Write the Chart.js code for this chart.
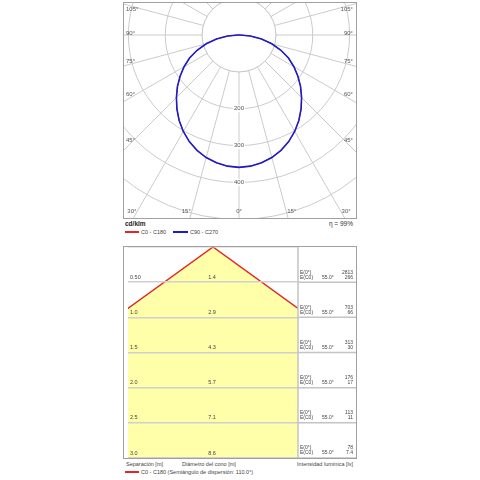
<!DOCTYPE html>
<html>
<head>
<meta charset="utf-8">
<script src="https://cdn.jsdelivr.net/npm/chart.js@4.4.0/dist/chart.umd.min.js"></script>
<style>
  body { margin:0; background:#fff; font-family:"Liberation Sans", Arial, sans-serif; }
  #page { position:relative; width:480px; height:480px; overflow:hidden; }
  .box { position:absolute; box-sizing:border-box; border:1px solid #a0a0a0; overflow:hidden; }
  #polarBox { left:123px; top:2px; width:234px; height:217px; }
  #polarBox canvas { position:absolute; left:-180px; top:-263px; }
  #coneBox { left:123px; top:246px; width:234px; height:213px; }
  #coneBox canvas { position:absolute; left:0; top:0; }
  .t { position:absolute; white-space:nowrap; color:#444; font-size:5.5px; line-height:6px; }
  .ln { position:absolute; height:1.5px; }
</style>
</head>
<body>
<div id="page">
  <div class="box" id="polarBox"><canvas id="polarChart" width="590" height="590"></canvas></div>

  <div class="t" style="left:125px;top:221px;font-size:6.5px;font-weight:bold;color:#222">cd/klm</div>
  <div class="t" style="left:300px;top:221px;width:53px;text-align:right;font-size:6.5px;color:#333">η = 99%</div>
  <div class="ln" style="left:125px;top:231px;width:14px;background:#e02828"></div>
  <div class="t" style="left:141px;top:229px">C0 - C180</div>
  <div class="ln" style="left:173px;top:231px;width:15px;background:#1c1cc8"></div>
  <div class="t" style="left:190px;top:229px">C90 - C270</div>

  <div class="box" id="coneBox"><canvas id="coneChart" width="232" height="211"></canvas></div>

  <div class="t" style="left:126px;top:461px">Separación [m]</div>
  <div class="t" style="left:182px;top:461px">Diámetro del cono [m]</div>
  <div class="t" style="left:290px;top:461px;width:63px;text-align:right">Intensidad lumínica [lx]</div>
  <div class="ln" style="left:125px;top:471px;width:14px;background:#e02828"></div>
  <div class="t" style="left:141px;top:469px">C0 - C180 (Semiángulo de dispersión: 110.0°)</div>
</div>

<script>
// polar data, cd/klm, gamma 0..90 in 5 degree steps
var gammaDeg = [0, 5, 10, 15, 20, 25, 30, 35, 40, 45, 50, 55, 60, 65, 70, 75, 80, 85, 90];
var c0c180  = [359, 357, 352, 344, 333, 319, 302, 283, 262, 240, 218, 195, 172, 148, 121, 92, 62, 31, 3];
var c90c270 = [359, 357, 352, 344, 333, 319, 302, 283, 262, 240, 218, 195, 172, 148, 121, 92, 62, 31, 3];
var angleTicks = [0, 15, 30, 45, 60, 75, 90, 105];
var ringLabels = [200, 300, 400];

// cone data
var separation = [0.5, 1.0, 1.5, 2.0, 2.5, 3.0];
var sepLabels  = ['0.50', '1.0', '1.5', '2.0', '2.5', '3.0'];
var diameter   = [1.4, 2.9, 4.3, 5.7, 7.1, 8.6];
var eCenter    = ['2813', '703', '313', '176', '113', '78'];
var eEdge      = ['266', '66', '30', '17', '11', '7.4'];
var edgeAngle  = '55.0°';

var FONT = '"Liberation Sans", Arial, sans-serif';
var GRID = '#cbcbcb';

// 72 spokes of 5 degrees, light only in the lower half
var spokeLabels = [];
for (var a = 0; a < 360; a += 5) spokeLabels.push(a + '°');

function toRing(vals) {
  return spokeLabels.map(function(l, i) {
    var a = i * 5;
    if (a <= 90) return vals[gammaDeg.indexOf(a)];
    if (a >= 270) return vals[gammaDeg.indexOf(360 - a)];
    return 0;
  });
}

var polarExtras = {
  id: 'polarExtras',
  beforeDatasetsDraw: function(chart) {
    var r = chart.scales.r, ctx = chart.ctx;
    var cx = r.xCenter, cy = r.yCenter;
    ctx.save();
    // inner ring is left empty
    var d100 = r.getDistanceFromCenterForValue(100);
    ctx.beginPath();
    ctx.arc(cx, cy, d100, 0, Math.PI * 2);
    ctx.fillStyle = '#fff';
    ctx.fill();
    ctx.strokeStyle = GRID;
    ctx.lineWidth = 1;
    ctx.stroke();

    // ring values along 0 degrees
    ctx.font = '6px ' + FONT;
    ctx.textAlign = 'center';
    ctx.textBaseline = 'middle';
    ringLabels.forEach(function(v) {
      var y = cy + r.getDistanceFromCenterForValue(v);
      var w = ctx.measureText(String(v)).width;
      ctx.fillStyle = '#fff';
      ctx.fillRect(cx - w / 2 - 1, y - 3.5, w + 2, 7);
      ctx.fillStyle = '#555';
      ctx.fillText(String(v), cx, y);
    });

    // angle labels at the frame edges
    var L = cx - 115, R = cx + 117, T = cy - 32, B = cy + 182;
    angleTicks.forEach(function(a) {
      var rad = a * Math.PI / 180;
      [-1, 1].forEach(function(side) {
        if (a === 0 && side === 1) return;
        var yb = B - 6;
        var dxb = (yb - cy) * Math.tan(rad);
        if (a < 90 && dxb <= 112) {
          ctx.textAlign = a === 0 ? 'center' : (side < 0 ? 'right' : 'left');
          ctx.fillText(a + '°', cx + side * (dxb + (a ? 1 : 0)), yb);
        } else {
          var yy = cy + 107 / Math.tan(rad) - 2;
          if (yy < T + 6) yy = T + 6;
          ctx.textAlign = side < 0 ? 'left' : 'right';
          ctx.fillText(a + '°', side < 0 ? L + 2 : R - 3, yy);
        }
      });
    });
    ctx.restore();
  }
};

new Chart(document.getElementById('polarChart'), {
  type: 'radar',
  data: {
    labels: spokeLabels,
    datasets: [
      { label: 'C0 - C180', data: toRing(c0c180), borderColor: '#e02828', borderWidth: 1, pointRadius: 0, fill: false, order: 2 },
      { label: 'C90 - C270', data: toRing(c90c270), borderColor: '#1c1cc8', borderWidth: 1.6, pointRadius: 0, fill: false, order: 1 }
    ]
  },
  options: {
    responsive: false,
    animation: false,
    events: [],
    plugins: { legend: { display: false }, tooltip: { enabled: false } },
    scales: {
      r: {
        min: 0, max: 800, startAngle: 180,
        ticks: { display: false, stepSize: 100 },
        pointLabels: { display: false },
        grid: { circular: true, color: GRID, lineWidth: 1 },
        angleLines: { color: function(c) { return c.index % 3 === 0 ? GRID : 'rgba(0,0,0,0)'; }, lineWidth: 1 }
      }
    }
  },
  plugins: [polarExtras]
});

// cone table
var coneTable = {
  id: 'coneTable',
  afterDraw: function(chart) {
    var ctx = chart.ctx, area = chart.chartArea, ys = chart.scales.y, xs = chart.scales.x;
    var W = chart.width;
    ctx.save();
    ctx.strokeStyle = '#c4c4c4';
    ctx.lineWidth = 1.5;
    ctx.beginPath();
    ctx.moveTo(area.right, area.top);
    ctx.lineTo(area.right, area.bottom);
    separation.forEach(function(s) {
      var py = ys.getPixelForValue(s);
      ctx.moveTo(area.right, py);
      ctx.lineTo(W, py);
    });
    ctx.stroke();

    ctx.textBaseline = 'middle';
    ctx.fillStyle = '#444';
    ctx.font = '5.5px ' + FONT;
    var x0 = xs.getPixelForValue(0) - 1;
    separation.forEach(function(s, i) {
      var py = ys.getPixelForValue(s);
      ctx.textAlign = 'center';
      ctx.fillText(diameter[i].toFixed(1), x0, py - 5);
      ctx.font = '5px ' + FONT;
      ctx.textAlign = 'left';
      ctx.fillText('E(0°)', area.right + 2, py - 10);
      ctx.fillText('E(C0)', area.right + 2, py - 5);
      ctx.fillText(edgeAngle, area.right + 24, py - 5);
      ctx.textAlign = 'right';
      ctx.fillText(eCenter[i], W - 3, py - 10);
      ctx.fillText(eEdge[i], W - 3, py - 5);
      ctx.font = '5.5px ' + FONT;
    });
    ctx.restore();
  }
};

var last = separation.length - 1;
new Chart(document.getElementById('coneChart'), {
  type: 'scatter',
  data: {
    datasets: [{
      label: 'C0 - C180',
      data: [
        { x: -diameter[last] / 2, y: separation[last] },
        { x: 0, y: 0 },
        { x: diameter[last] / 2, y: separation[last] }
      ],
      showLine: true,
      fill: 'start',
      backgroundColor: '#ffffaa',
      borderColor: '#e02828',
      borderWidth: 1.5,
      pointRadius: 0
    }]
  },
  options: {
    responsive: false,
    animation: false,
    events: [],
    layout: { padding: { right: 58 } },
    plugins: { legend: { display: false }, tooltip: { enabled: false } },
    scales: {
      x: { type: 'linear', min: -1.25, max: 1.25, display: false },
      y: {
        type: 'linear', reverse: true, min: 0, max: 3,
        afterBuildTicks: function(s) { s.ticks = [0].concat(separation).map(function(v) { return { value: v }; }); },
        afterFit: function(s) { s.paddingTop = 0; s.paddingBottom = 0; },
        grid: { color: '#cfcfcf', lineWidth: 1.5, drawTicks: false, z: 1 },
        border: { display: false },
        ticks: {
          mirror: true, padding: 2, labelOffset: -5, color: '#444', z: 1,
          font: { size: 5.5, family: FONT },
          callback: function(v, i) { return i === 0 ? '' : sepLabels[i - 1]; }
        }
      }
    }
  },
  plugins: [coneTable]
});
</script>
</body>
</html>
